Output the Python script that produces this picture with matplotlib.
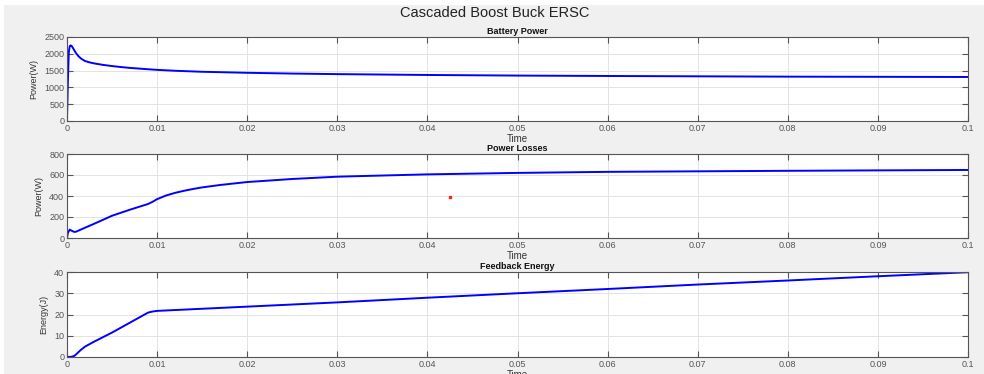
import matplotlib
matplotlib.use("Agg")
import matplotlib.pyplot as plt
from matplotlib.patches import Rectangle

plt.rcParams['font.family'] = ['Liberation Sans', 'DejaVu Sans']

# Battery power (W)
t_batt = [0, 0.0001, 0.0002, 0.0003, 0.0004, 0.0005, 0.0006, 0.0008, 0.001, 0.0013,
          0.0016, 0.002, 0.0025, 0.003, 0.004, 0.005, 0.006, 0.007, 0.008, 0.009,
          0.01, 0.012, 0.015, 0.02, 0.025, 0.03, 0.04, 0.05, 0.06, 0.07,
          0.08, 0.09, 0.1]
p_batt = [0, 1200, 2050, 2230, 2250, 2235, 2200, 2110, 2020, 1920,
          1850, 1785, 1745, 1715, 1670, 1635, 1605, 1580, 1560, 1540,
          1522, 1495, 1465, 1435, 1412, 1395, 1370, 1352, 1340, 1330,
          1320, 1315, 1310]

# Power losses (W)
t_loss = [0, 0.0001, 0.0003, 0.0005, 0.0008, 0.001, 0.002, 0.003, 0.005, 0.007,
          0.009, 0.0095, 0.01, 0.011, 0.012, 0.013, 0.014, 0.015, 0.017, 0.02,
          0.025, 0.03, 0.04, 0.05, 0.06, 0.07, 0.08, 0.09, 0.1]
p_loss = [0, 50, 80, 70, 58, 60, 98, 135, 212, 270,
          324, 345, 370, 405, 430, 450, 467, 482, 505, 533,
          562, 584, 606, 620, 630, 635, 640, 644, 648]
marker_pt = (0.0425, 390)

# Feedback energy (J)
t_energy = [0, 0.0005, 0.0008, 0.001, 0.0015, 0.002, 0.003, 0.005, 0.007, 0.009,
            0.0095, 0.01, 0.02, 0.03, 0.04, 0.05, 0.06, 0.07, 0.08, 0.09, 0.1]
energy = [0, 0.1, 0.5, 1.2, 3.2, 4.9, 7.2, 11.5, 16.2, 20.9,
          21.4, 21.7, 23.7, 25.7, 27.9, 30.0, 32.0, 34.1, 36.0, 38.0, 39.9]

x_ticks = [0, 0.01, 0.02, 0.03, 0.04, 0.05, 0.06, 0.07, 0.08, 0.09, 0.1]
x_ticklabels = ['0', '0.01', '0.02', '0.03', '0.04', '0.05', '0.06', '0.07', '0.08', '0.09', '0.1']

W, H = 984, 374
fig = plt.figure(figsize=(W / 100, H / 100), dpi=100)
fig.patch.set_facecolor('#f0f0f0')
# white screenshot margin on top and left
fig.patches.append(Rectangle((0, 1 - 5 / H), 1, 5 / H, transform=fig.transFigure,
                             facecolor='white', edgecolor='none', zorder=0))
fig.patches.append(Rectangle((0, 0), 4 / W, 1, transform=fig.transFigure,
                             facecolor='white', edgecolor='none', zorder=0))

fig.text(0.503, 1 - 13 / H, 'Cascaded Boost Buck ERSC', ha='center', va='center',
         fontsize=10.5, color='#222222')


def make_axes(top_px, bottom_px):
    left, right = 67, 968
    return fig.add_axes([left / W, 1 - bottom_px / H, (right - left) / W,
                         (bottom_px - top_px) / H])


def style(ax, title, ylabel, ylim, yticks):
    ax.set_facecolor('white')
    ax.set_xlim(0, 0.1)
    ax.set_ylim(*ylim)
    ax.set_xticks(x_ticks)
    ax.set_xticklabels(x_ticklabels)
    ax.set_yticks(yticks)
    ax.grid(True, color='#e3e3e3', linewidth=0.7)
    ax.set_axisbelow(True)
    ax.tick_params(direction='in', length=4, width=0.8, labelsize=6.5,
                   colors='#555555', top=True, right=True, pad=2)
    for s in ax.spines.values():
        s.set_color('#555555')
        s.set_linewidth(0.8)
    ax.set_title(title, fontsize=6.5, fontweight='bold', pad=2, color='#111111')
    ax.set_xlabel('Time', fontsize=7, labelpad=1, color='#333333')
    ax.set_ylabel(ylabel, fontsize=6.5, labelpad=4, color='#333333')


ax1 = make_axes(37, 121)
ax1.plot(t_batt, p_batt, color='#0000ff', linewidth=1.4)
style(ax1, 'Battery Power', 'Power(W)', (0, 2500), [0, 500, 1000, 1500, 2000, 2500])

ax2 = make_axes(154, 238)
ax2.plot(t_loss, p_loss, color='#0000ff', linewidth=1.4)
ax2.plot([marker_pt[0]], [marker_pt[1]], 's', color='#ff2020', markersize=1.5)
style(ax2, 'Power Losses', 'Power(W)', (0, 800), [0, 200, 400, 600, 800])

ax3 = make_axes(272, 357)
ax3.plot(t_energy, energy, color='#0000ff', linewidth=1.4)
style(ax3, 'Feedback Energy', 'Energy(J)', (0, 40), [0, 10, 20, 30, 40])

fig.savefig('out.png', dpi=100, facecolor=fig.get_facecolor())
